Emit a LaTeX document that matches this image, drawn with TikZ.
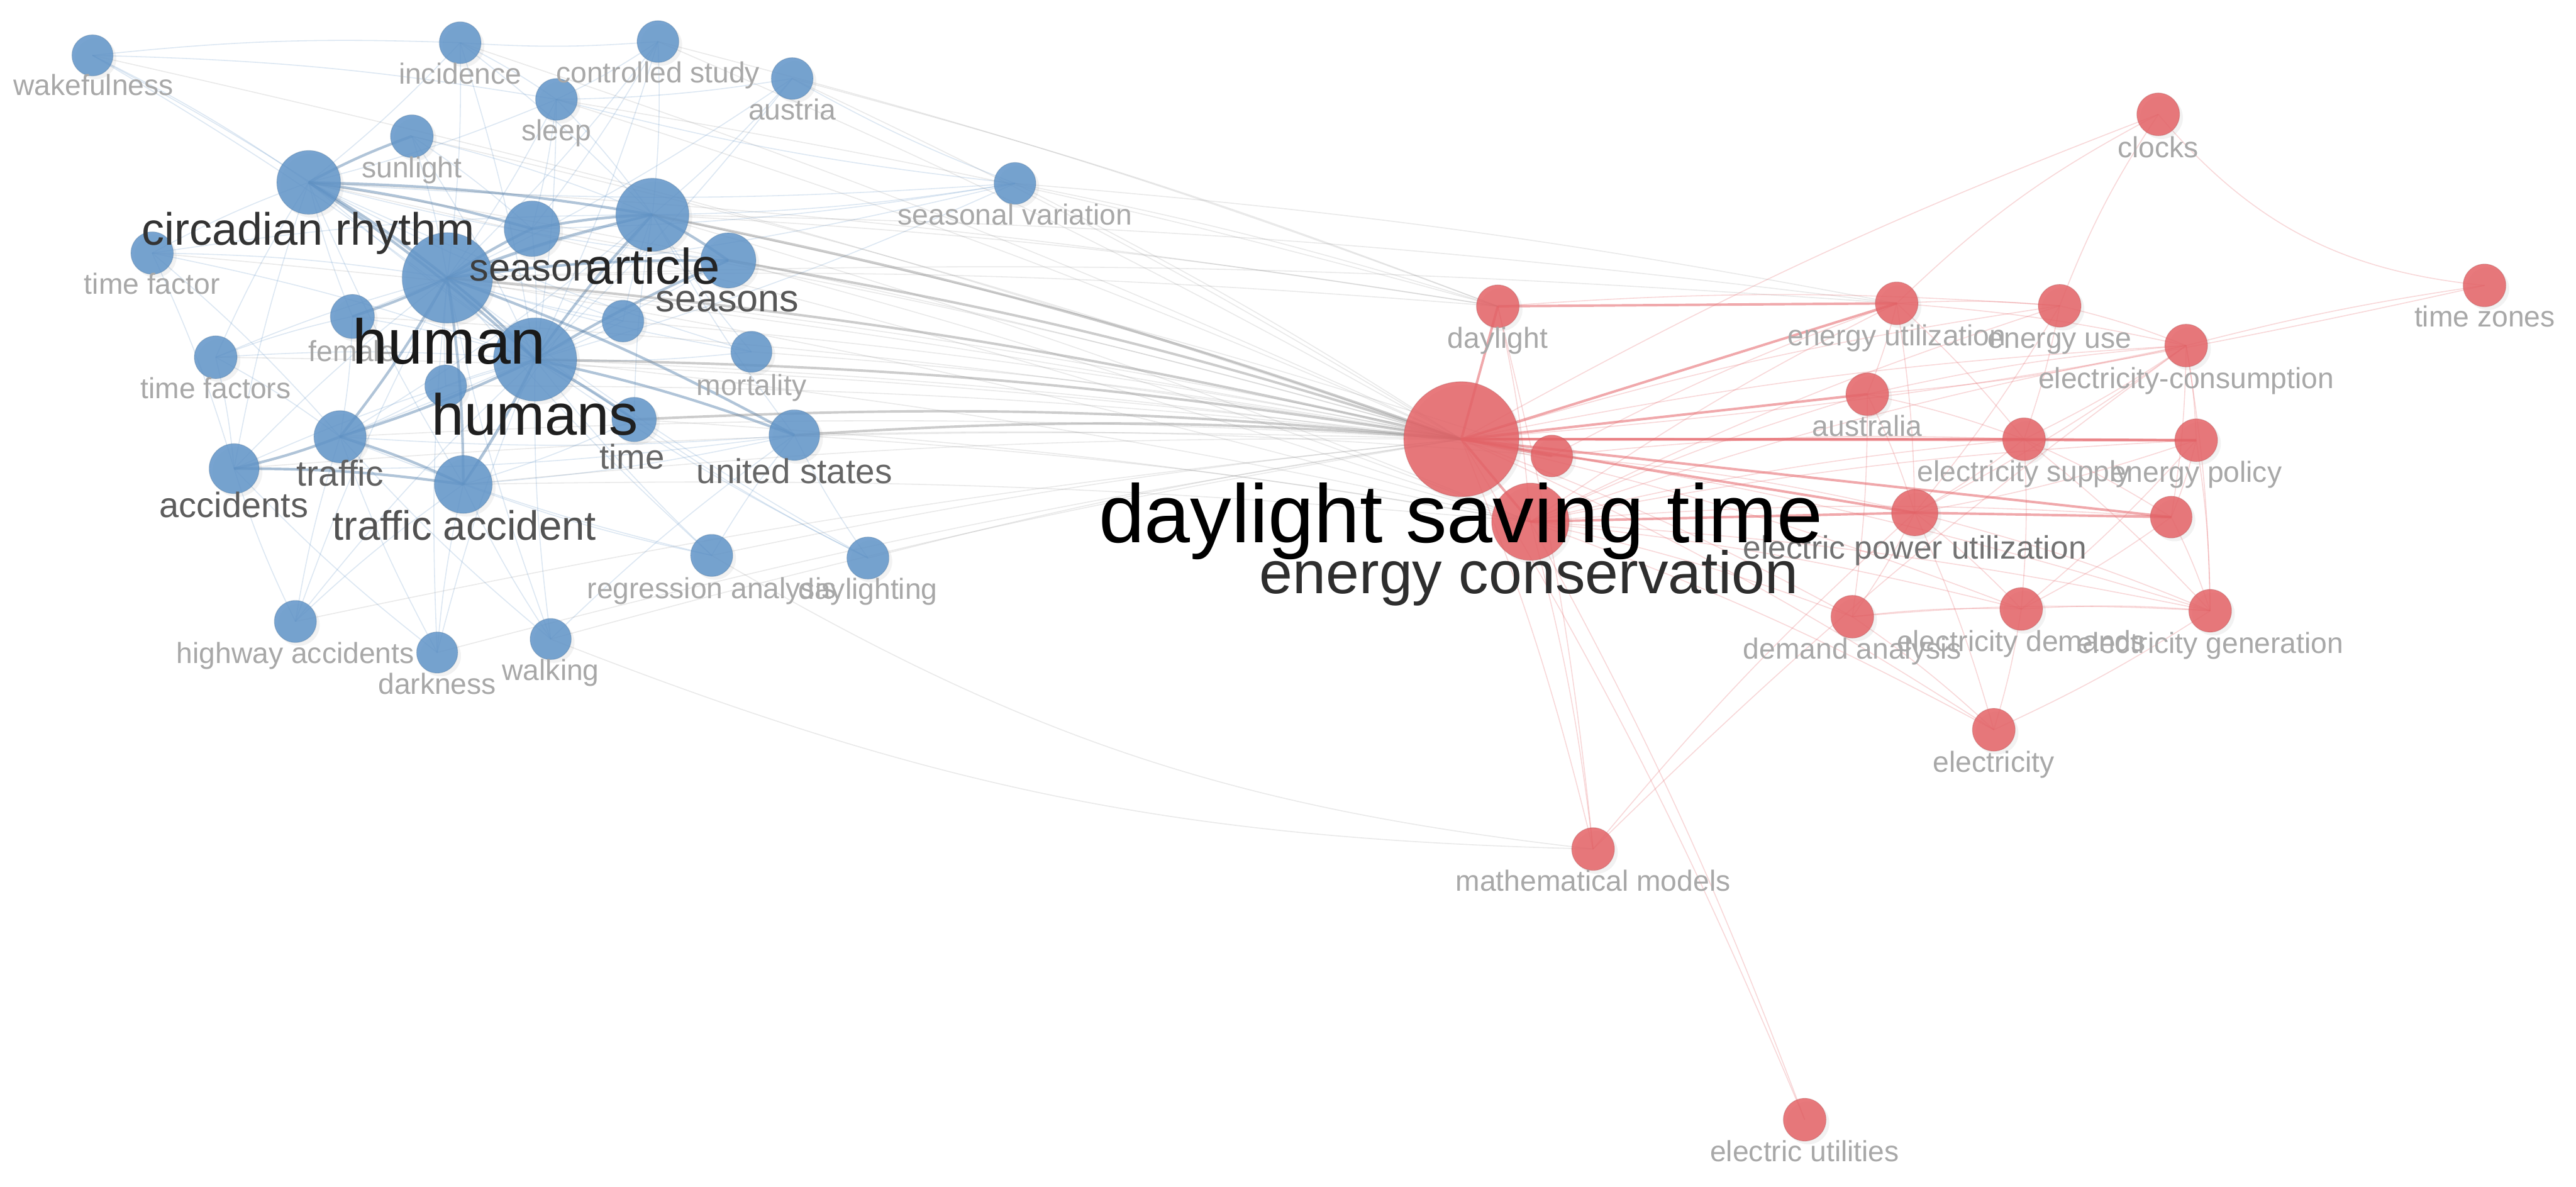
\documentclass[tikz,border=0pt]{standalone}
\usepackage{fontspec}
\setmainfont{Liberation Sans}
\usetikzlibrary{shadows}
\pgfdeclarelayer{bg}
\pgfdeclarelayer{edges}
\pgfsetlayers{bg,edges,main}
\definecolor{bcol}{RGB}{96,148,200}
\definecolor{rcol}{RGB}{228,98,102}
\definecolor{gcol}{RGB}{135,135,135}
\definecolor{lgray}{RGB}{168,168,168}
\newcommand\fsz[1]{\fontsize{#1}{#1}\selectfont}
\tikzset{
  bn/.style={circle, inner sep=0, minimum size={2*#1pt}, fill=bcol, fill opacity=0.85,
    draw=bcol!70!black, draw opacity=0.25, line width=0.5pt,
    drop shadow={opacity=0.10, shadow xshift=2pt, shadow yshift=-2pt}},
  rn/.style={circle, inner sep=0, minimum size={2*#1pt}, fill=rcol, fill opacity=0.85,
    draw=rcol!70!black, draw opacity=0.25, line width=0.5pt,
    drop shadow={opacity=0.10, shadow xshift=2pt, shadow yshift=-2pt}},
  lbl/.style={anchor=base, inner sep=0, text=lgray, font=\fsz{17.7}},
  be/.style={draw=bcol, draw opacity=0.22, line width=0.6pt},
  bes/.style={draw=bcol!85!black, draw opacity=0.45, line width=1.6pt},
  ge/.style={draw=gcol, draw opacity=0.18, line width=0.6pt},
  ges/.style={draw=gcol, draw opacity=0.42, line width=1.5pt},
  re/.style={draw=rcol, draw opacity=0.25, line width=0.6pt},
  res/.style={draw=rcol, draw opacity=0.55, line width=1.5pt},
}
\begin{document}
\begin{tikzpicture}[x=1pt, y=-1pt]
\begin{pgfonlayer}{bg}
\fill[white] (0,0) rectangle (1568,722);
\end{pgfonlayer}
\path[use as bounding box] (0,0) rectangle (1568,722);

% ---------------- blue nodes
\node[bn=12.5] (wake) at (56.3,33.7) {};
\node[bn=12.7] (incid) at (280.1,26.0) {};
\node[bn=12.7] (ctrl) at (400.5,25.3) {};
\node[bn=12.7] (austria) at (482.2,47.8) {};
\node[bn=12.7] (sleep) at (338.7,60.5) {};
\node[bn=13] (sun) at (250.7,82.9) {};
\node[bn=12.7] (seasvar) at (617.8,111.6) {};
\node[bn=19.4] (circ) at (187.9,111.0) {};
\node[bn=12.9] (tfactor) at (92.6,154.0) {};
\node[bn=16.9] (season) at (323.8,139.2) {};
\node[bn=22.2] (article) at (397.1,130.7) {};
\node[bn=16.8] (seasons) at (443.3,158.5) {};
\node[bn=27.5] (human) at (272.3,169.1) {};
\node[bn=13.4] (female) at (214.5,192.6) {};
\node[bn=25.3] (humans) at (325.7,218.8) {};
\node[bn=12.7] (bU1) at (379.2,195.4) {};
\node[bn=12.7] (bU2) at (271.3,234.8) {};
\node[bn=13] (tfactors) at (131.3,217.4) {};
\node[bn=15.9] (traffic) at (207.0,265.8) {};
\node[bn=15.2] (accid) at (142.5,285.2) {};
\node[bn=17.6] (taccid) at (282.0,294.8) {};
\node[bn=13.5] (time) at (386.0,255.3) {};
\node[bn=15.4] (usa) at (483.5,264.8) {};
\node[bn=12.5] (mort) at (457.4,214.1) {};
\node[bn=12.8] (regr) at (433.2,338.0) {};
\node[bn=12.8] (dayltg) at (528.3,339.6) {};
\node[bn=12.8] (hwy) at (179.8,378.2) {};
\node[bn=12.5] (dark) at (266.1,397.1) {};
\node[bn=12.5] (walk) at (335.2,388.9) {};

% ---------------- red nodes
\node[rn=35] (dst) at (889.5,267.3) {};
\node[rn=12.7] (rU1) at (944.6,277.5) {};
\node[rn=23.5] (econs) at (931.5,317.5) {};
\node[rn=13] (dayl) at (911.7,186.4) {};
\node[rn=13] (eutil) at (1154.5,184.6) {};
\node[rn=13] (euse) at (1253.7,186.1) {};
\node[rn=13] (econsump) at (1330.7,210.3) {};
\node[rn=13] (clocks) at (1313.7,69.6) {};
\node[rn=13] (tzones) at (1512.3,173.7) {};
\node[rn=13] (austral) at (1136.6,239.9) {};
\node[rn=13] (esupply) at (1232.0,267.3) {};
\node[rn=13] (epolicy) at (1336.8,267.9) {};
\node[rn=14.1] (epower) at (1165.5,312.0) {};
\node[rn=12.7] (rU2) at (1321.6,314.7) {};
\node[rn=13] (demand) at (1127.5,375.3) {};
\node[rn=13] (edemand) at (1230.3,370.6) {};
\node[rn=13] (egen) at (1345.3,371.7) {};
\node[rn=13] (elec) at (1213.6,444.1) {};
\node[rn=13] (math) at (969.7,516.7) {};
\node[rn=13] (eutilities) at (1098.5,681.4) {};

% ---------------- edges
\begin{pgfonlayer}{edges}
% blue, light
\foreach \a/\b in {wake/circ, wake/incid, wake/sleep, wake/human, wake/humans, incid/human, incid/humans,
  incid/article, incid/circ, incid/sleep, ctrl/human, ctrl/article, ctrl/humans, ctrl/sleep, ctrl/incid,
  ctrl/season, austria/article, austria/human, austria/humans, austria/sleep, sleep/human, sleep/circ,
  sleep/article, sleep/humans, sleep/season, sun/human, sun/article, sun/humans, sun/season,
  tfactor/human, tfactor/humans, tfactor/circ, tfactor/article, tfactor/traffic, tfactor/accid,
  tfactors/human, tfactors/humans, tfactors/accid, tfactors/traffic, tfactors/female, tfactors/circ,
  female/humans, female/circ, female/traffic, female/article, bU1/human, bU1/humans, bU1/article,
  bU1/circ, bU2/human, bU2/humans, bU2/traffic, mort/human, mort/humans, mort/article, mort/circ,
  usa/article, usa/traffic, usa/taccid, usa/accid, time/human, time/article, time/circ, time/taccid,
  regr/humans, regr/human, regr/taccid, regr/usa, regr/traffic, dayltg/usa, dayltg/humans,
  dayltg/time, dayltg/human, hwy/accid, hwy/taccid, hwy/human, hwy/humans, hwy/traffic,
  dark/taccid, dark/accid, dark/human, dark/humans, dark/traffic, walk/taccid, walk/humans,
  walk/human, walk/traffic, walk/usa, accid/human, accid/humans, accid/circ, taccid/article,
  taccid/circ, seasons/circ, seasons/traffic, seasvar/article, seasvar/human, seasvar/humans,
  seasvar/circ, seasvar/sleep, seasvar/austria, seasvar/season, article/traffic, season/humans}
  \draw[be] (\a.center) to[bend left=4] (\b.center);
% blue, strong
\foreach \a/\b in {circ/article, circ/human, circ/season, circ/humans, human/humans, human/article,
  humans/article, human/season, season/article, article/seasons, human/traffic, humans/traffic,
  traffic/accid, accid/taccid, traffic/taccid, humans/taccid, human/taccid, human/female,
  humans/time, human/usa, humans/usa, human/seasons, humans/seasons, circ/sun}
  \draw[bes] (\a.center) to[bend left=4] (\b.center);
% gray, between clusters
\foreach \a/\b in {mort/dst, bU1/dst, traffic/dst, taccid/dst, accid/dst, sleep/dst, sun/dst,
  seasvar/dst, dayltg/dst, regr/dst, austria/dst, incid/dst, ctrl/dst, tfactor/dst, female/dst,
  dark/dst, walk/dst, hwy/dst, tfactors/dst, bU2/dst, circ/dst, season/dst,
  human/econs, humans/econs, article/econs, usa/econs, time/econs, seasons/econs, circ/econs,
  taccid/econs, human/rU1, article/rU1, seasvar/dayl, article/dayl, human/dayl, sleep/dayl,
  austria/dayl, ctrl/dayl, circ/dayl, seasvar/eutil, human/eutil, article/eutil, wake/dst,
  humans/rU1, usa/rU1}
  \draw[ge] (\a.center) to[bend left=3] (\b.center);
\foreach \a/\b in {human/dst, humans/dst, article/dst, usa/dst, seasons/dst, time/dst}
  \draw[ges] (\a.center) to[bend left=4] (\b.center);
\draw[ge] (regr.center) to[bend right=12] (math.center);
\draw[ge] (walk.center) to[bend right=10] (math.center);
% red, light
\foreach \a/\b in {dst/euse, dst/econsump, dst/demand, dst/edemand, dst/egen, dst/elec, dst/math,
  dst/clocks, dst/eutilities, econs/eutil, econs/euse, econs/econsump, econs/esupply, econs/epolicy,
  econs/demand, econs/edemand, econs/egen, econs/elec, econs/math, econs/austral, econs/rU2,
  dayl/euse, dayl/econs, dayl/math, eutil/euse, eutil/econsump, eutil/austral, eutil/esupply,
  eutil/epower, euse/econsump, euse/esupply, euse/epower, econsump/esupply, econsump/epolicy,
  econsump/epower, econsump/rU2, econsump/austral, tzones/dst, austral/esupply, austral/epower,
  austral/demand, austral/econsump, esupply/epower, esupply/edemand, esupply/egen, esupply/rU2,
  epolicy/rU2, epolicy/egen, epolicy/epower, epower/demand, epower/edemand, epower/egen,
  epower/elec, rU2/egen, rU2/edemand, demand/edemand, demand/egen, demand/elec, edemand/egen,
  edemand/elec, egen/elec, math/econsump, math/epower, econs/eutilities, rU1/eutil, rU1/epower,
  rU1/esupply, econsump/egen, epolicy/edemand}
  \draw[re] (\a.center) to[bend left=4] (\b.center);
\draw[re] (econsump.center) to[bend left=3] (tzones.center);
\draw[re] (clocks.center) to[bend right=22] (tzones.center);
\draw[re] (clocks.center) to[bend right=8] (eutil.center);
\draw[re] (clocks.center) to[bend right=6] (euse.center);
% red, strong
\foreach \a/\b in {dst/esupply, dst/epolicy, esupply/epolicy, dst/epower, dst/rU2, epower/rU2,
  dst/econs, dst/rU1, dst/dayl, dst/eutil, dst/austral, econs/epower, dayl/eutil}
  \draw[res] (\a.center) -- (\b.center);
\end{pgfonlayer}

% ---------------- labels, blue cluster
\node[lbl] at (56.9,58.0) {wakefulness};
\node[lbl] at (280.1,51.0) {incidence};
\node[lbl] at (400.5,50.3) {controlled study};
\node[lbl] at (482.2,72.8) {austria};
\node[lbl] at (338.6,85.6) {sleep};
\node[lbl] at (250.7,108.2) {sunlight};
\node[lbl] at (617.8,137.0) {seasonal variation};
\node[lbl] at (92.6,179.0) {time factor};
\node[lbl] at (214.5,219.8) {female};
\node[lbl] at (131.3,242.4) {time factors};
\node[lbl] at (457.4,240.5) {mortality};
\node[lbl] at (433.2,364.1) {regression analysis};
\node[lbl] at (528.3,364.5) {daylighting};
\node[lbl] at (179.8,403.6) {highway accidents};
\node[lbl] at (266.1,422.5) {darkness};
\node[lbl] at (335.2,414.2) {walking};
\node[lbl, font=\fsz{21.8}, text=black!62] at (207.1,295.7) {traffic};
\node[lbl, font=\fsz{21.4}, text=black!64] at (142.4,315.0) {accidents};
\node[lbl, font=\fsz{20.9}, text=black!60] at (384.8,285.4) {time};
\node[lbl, font=\fsz{21.0}, text=black!60] at (483.5,294.0) {united states};
\node[lbl, font=\fsz{25.0}, text=black!68] at (282.6,328.5) {traffic accident};
\node[lbl, font=\fsz{23.4}, text=black!66] at (442.7,189.8) {seasons};
\node[lbl, font=\fsz{23.5}, text=black!76] at (323.8,171.0) {season};
\node[lbl, font=\fsz{27.6}, text=black!80] at (187.5,149.1) {circadian rhythm};
\node[lbl, font=\fsz{30.5}, text=black!86] at (397.4,172.9) {article};
\node[lbl, font=\fsz{35.3}, text=black!88] at (325.7,264.8) {humans};
\node[lbl, font=\fsz{38.5}, text=black!90] at (273.4,221.6) {human};

% ---------------- labels, red cluster
\node[lbl] at (911.7,212.0) {daylight};
\node[lbl] at (1154.5,210.3) {energy utilization};
\node[lbl] at (1253.7,211.8) {energy use};
\node[lbl] at (1330.7,236.5) {electricity-consumption};
\node[lbl] at (1313.7,96.0) {clocks};
\node[lbl] at (1512.4,198.8) {time zones};
\node[lbl] at (1136.6,265.6) {australia};
\node[lbl] at (1232.0,293.0) {electricity supply};
\node[lbl] at (1336.8,293.6) {energy policy};
\node[lbl] at (1127.5,401.0) {demand analysis};
\node[lbl] at (1230.3,396.3) {electricity demands};
\node[lbl] at (1345.3,397.4) {electricity generation};
\node[lbl] at (1213.6,469.8) {electricity};
\node[lbl] at (969.7,542.4) {mathematical models};
\node[lbl] at (1098.5,707.0) {electric utilities};
\node[lbl, font=\fsz{19.7}, text=black!55] at (1165.5,340.1) {electric power utilization};
\node[lbl, font=\fsz{36.4}, text=black!82] at (930.6,361.3) {energy conservation};
\node[lbl, font=\fsz{50.2}, text=black] at (889.2,330.0) {daylight saving time};
\end{tikzpicture}
\end{document}
